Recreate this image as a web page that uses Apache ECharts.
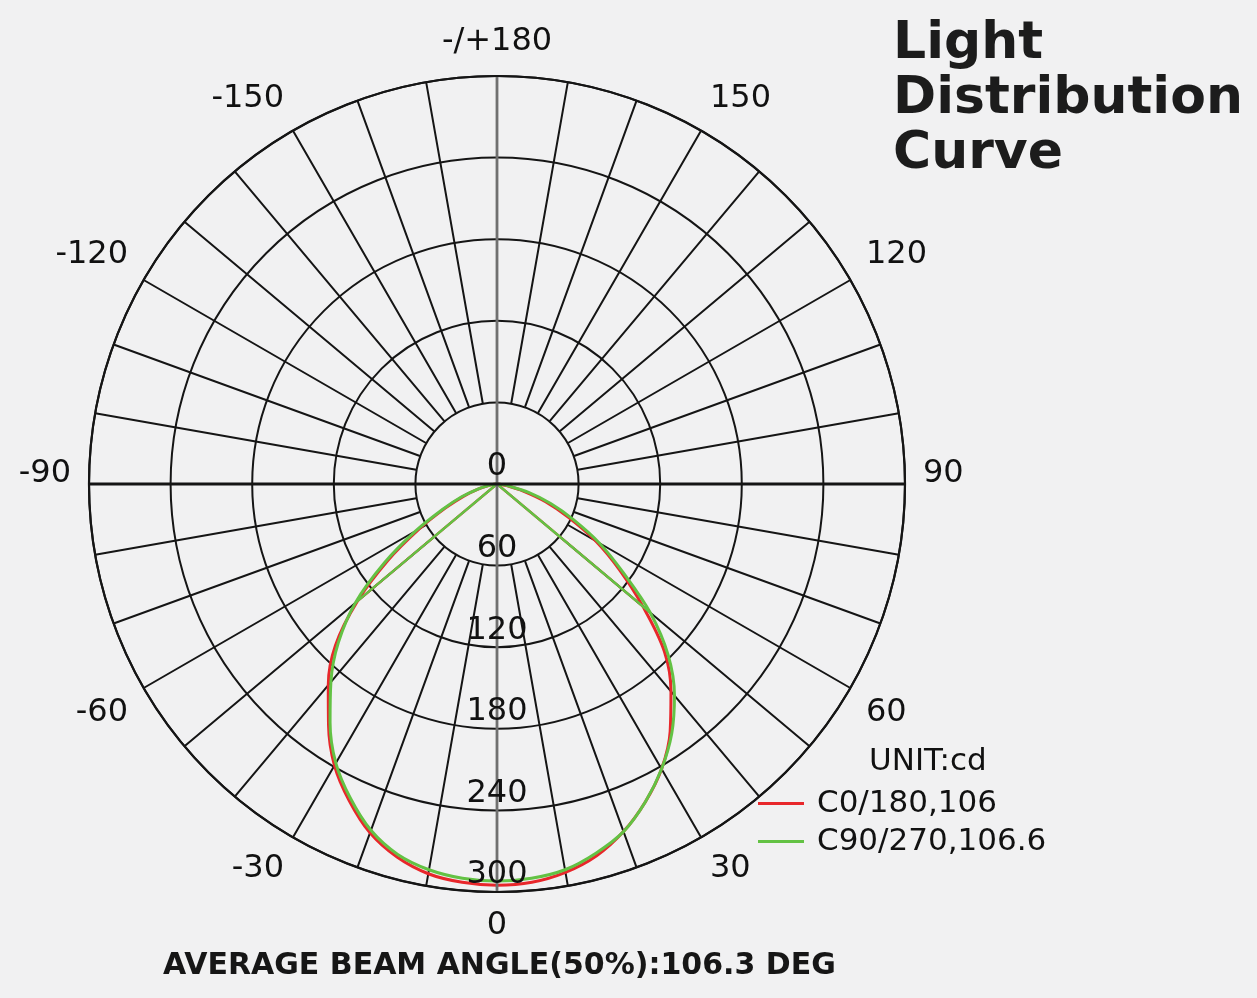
<!DOCTYPE html>
<html>
<head>
<meta charset="utf-8">
<title>Light Distribution Curve</title>
<script src="https://cdn.jsdelivr.net/npm/echarts@6/dist/echarts.min.js"></script>
<style>
  html, body { margin: 0; padding: 0; background: #f1f1f2; }
  #chart { width: 1257px; height: 998px; }
</style>
</head>
<body>
<div id="chart"></div>
<script>
// gamma angles (deg), 0 = straight down, + to the right
const angles = [-90, -85, -80, -75, -70, -65, -60, -55, -50, -45, -40, -35, -30, -25, -20, -15, -10, -5,
  0, 5, 10, 15, 20, 25, 30, 35, 40, 45, 50, 55, 60, 65, 70, 75, 80, 85, 90];

// intensity in cd
const c0_180 = [0, 2, 6, 14, 26, 42, 66, 98, 134, 168, 193, 216, 239, 257, 273, 284, 291, 294,
  295, 294, 290, 283, 272, 258, 242, 222, 199, 174, 140, 110, 84, 58, 38, 20, 8, 2, 0];
const c90_270 = [0, 2, 6, 15, 28, 44, 69, 101, 136, 165, 190, 214, 237, 255, 271, 282, 288, 291,
  292, 291, 288, 281, 272, 258, 242, 224, 203, 178, 147, 113, 87, 62, 42, 24, 9, 3, 0];

const seriesNames = ['C0/180,106', 'C90/270,106.6'];
const seriesColors = ['#e8272b', '#63c244'];

const radiusTicks = [0, 60, 120, 180, 240, 300];
const angleLabels = [-150, -120, -90, -60, -30, 0, 30, 60, 90, 120, 150, 180, -180];

const chart = echarts.init(document.getElementById('chart'));

const toPolar = (vals) => angles.map((a, i) => [vals[i], a]);

// the source plot also has straight chords from the +/-50 deg points back to the centre
const chord = (vals) => {
  const r = angles.indexOf(50), l = angles.indexOf(-50);
  return [[vals[r], 50], [0, 90], [vals[l], -50]];
};

const spokeColors = ['rgba(0,0,0,0)'].concat(new Array(8).fill('#151515'));

const labelFont = { fontFamily: 'DejaVu Sans', fontSize: 32, color: '#111' };

const option = {
  backgroundColor: '#f1f1f2',
  animation: false,
  textStyle: { fontFamily: 'DejaVu Sans' },
  title: [
    {
      text: 'Light\nDistribution\nCurve',
      left: 893, top: 17, padding: 0,
      textStyle: { fontFamily: 'DejaVu Sans', fontSize: 52, fontWeight: 'bold', lineHeight: 55, color: '#1c1c1c' }
    },
    {
      text: 'UNIT:cd',
      left: 869, top: 746, padding: 0,
      textStyle: { fontFamily: 'DejaVu Sans', fontSize: 31, fontWeight: 'normal', color: '#111' }
    },
    {
      text: 'AVERAGE BEAM ANGLE(50%):106.3 DEG',
      left: 163, top: 951, padding: 0,
      textStyle: { fontFamily: 'DejaVu Sans', fontSize: 30, fontWeight: 'bold', color: '#161616' }
    }
  ],
  legend: {
    orient: 'vertical',
    left: 758, top: 788,
    padding: 0,
    itemGap: 7,
    itemWidth: 46,
    itemHeight: 3,
    icon: 'rect',
    data: seriesNames,
    textStyle: { fontFamily: 'DejaVu Sans', fontSize: 31, color: '#111', padding: [0, 0, 0, 8] }
  },
  polar: [
    { center: [497, 484], radius: 408 },
    { center: [497, 484], radius: [82, 408] }
  ],
  angleAxis: [
    {
      polarIndex: 0, type: 'value', min: -180, max: 180, interval: 90,
      startAngle: 90, clockwise: false, z: 5,
      axisLine: { show: true, lineStyle: { color: '#151515', width: 2.2 } },
      axisTick: { show: false },
      axisLabel: { show: false },
      splitLine: { show: true, lineStyle: { color: ['#707070', '#151515'], width: 2.8 } }
    },
    {
      polarIndex: 1, type: 'value', min: -180, max: 180, interval: 10,
      startAngle: 90, clockwise: false, z: 1,
      axisLine: { show: false },
      axisTick: { show: false },
      axisLabel: Object.assign({
        show: true, margin: 18,
        formatter: (v) => {
          if (angleLabels.indexOf(v) < 0) return '';
          if (Math.abs(v) === 180) return '-/+180';
          if (Math.abs(v) === 90) return '{up|' + v + '}';
          return String(v);
        },
        rich: { up: Object.assign({ padding: [0, 0, 20, 0] }, labelFont) }
      }, labelFont),
      splitLine: { show: true, lineStyle: { color: spokeColors, width: 2 } }
    }
  ],
  radiusAxis: [
    {
      polarIndex: 0, type: 'value', min: 0, max: 300, interval: 60,
      axisLine: { show: false }, axisTick: { show: false }, axisLabel: { show: false },
      splitLine: { show: true, lineStyle: { color: '#151515', width: 2 } }
    },
    {
      polarIndex: 1, type: 'value', min: 0, max: 300, show: false,
      splitLine: { show: false }
    }
  ],
  series: [
    {
      name: seriesNames[0], type: 'line', coordinateSystem: 'polar', polarIndex: 0,
      data: toPolar(c0_180), showSymbol: false, smooth: 0.35, z: 3,
      lineStyle: { color: seriesColors[0], width: 3 }, itemStyle: { color: seriesColors[0] }
    },
    {
      name: seriesNames[0], type: 'line', coordinateSystem: 'polar', polarIndex: 0,
      data: chord(c0_180), showSymbol: false, z: 3,
      lineStyle: { color: seriesColors[0], width: 2.4 }, itemStyle: { color: seriesColors[0] }
    },
    {
      name: seriesNames[1], type: 'line', coordinateSystem: 'polar', polarIndex: 0,
      data: toPolar(c90_270), showSymbol: false, smooth: 0.35, z: 4,
      lineStyle: { color: seriesColors[1], width: 3 }, itemStyle: { color: seriesColors[1] }
    },
    {
      name: seriesNames[1], type: 'line', coordinateSystem: 'polar', polarIndex: 0,
      data: chord(c90_270), showSymbol: false, z: 4,
      lineStyle: { color: seriesColors[1], width: 2.4 }, itemStyle: { color: seriesColors[1] }
    },
    {
      type: 'scatter', coordinateSystem: 'polar', polarIndex: 0, z: 10,
      data: radiusTicks.map((v) => [v, 0]),
      symbolSize: 1, itemStyle: { color: 'rgba(0,0,0,0)', opacity: 1 }, silent: true,
      label: Object.assign({
        show: true, position: 'inside', offset: [0, -17],
        formatter: (p) => String(p.value[0])
      }, labelFont)
    }
  ]
};

chart.setOption(option);
</script>
</body>
</html>
